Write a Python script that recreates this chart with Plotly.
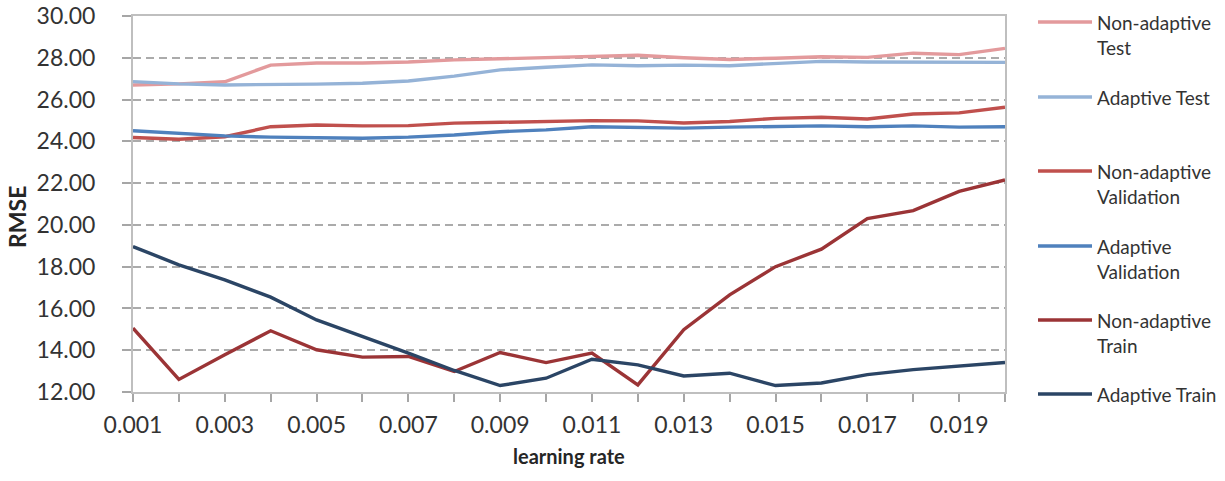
import plotly.graph_objects as go

learning_rate = [0.001, 0.002, 0.003, 0.004, 0.005, 0.006, 0.007, 0.008, 0.009, 0.010,
                 0.011, 0.012, 0.013, 0.014, 0.015, 0.016, 0.017, 0.018, 0.019, 0.020]

nonadaptive_test = [26.70, 26.75, 26.85, 27.65, 27.75, 27.75, 27.80, 27.90, 27.95, 28.00,
                    28.05, 28.12, 28.00, 27.92, 27.98, 28.05, 28.02, 28.22, 28.15, 28.45]
adaptive_test = [26.86, 26.75, 26.70, 26.70, 26.74, 26.78, 26.89, 27.12, 27.42, 27.55,
                 27.66, 27.62, 27.65, 27.62, 27.74, 27.83, 27.80, 27.80, 27.76, 27.78]
nonadaptive_val = [24.18, 24.10, 24.22, 24.70, 24.78, 24.74, 24.75, 24.87, 24.91, 24.95,
                   24.99, 24.98, 24.88, 24.95, 25.10, 25.15, 25.07, 25.31, 25.36, 25.63]
adaptive_val = [24.51, 24.39, 24.26, 24.20, 24.18, 24.15, 24.20, 24.30, 24.46, 24.55,
                24.70, 24.68, 24.63, 24.68, 24.73, 24.74, 24.70, 24.74, 24.68, 24.70]
nonadaptive_train = [15.06, 12.60, 13.78, 14.93, 14.02, 13.67, 13.70, 12.98, 13.89, 13.41,
                     13.86, 12.34, 14.98, 16.65, 18.00, 18.84, 20.30, 20.68, 21.60, 22.15]
adaptive_train = [18.96, 18.09, 17.37, 16.54, 15.45, 14.66, 13.86, 13.03, 12.31, 12.66,
                  13.57, 13.30, 12.77, 12.90, 12.31, 12.43, 12.83, 13.07, 13.23, 13.41]

series_names = ["Non-adaptive<br>Test", "Adaptive Test", "Non-adaptive<br>Validation",
                "Adaptive<br>Validation", "Non-adaptive<br>Train", "Adaptive Train"]
series_values = [nonadaptive_test, adaptive_test, nonadaptive_val,
                 adaptive_val, nonadaptive_train, adaptive_train]
series_colors = ["#E39A9C", "#95B3D7", "#C0504D", "#4F81BD", "#9B3436", "#2B4565"]

tick_labels = ["0.001", "", "0.003", "", "0.005", "", "0.007", "", "0.009", "",
               "0.011", "", "0.013", "", "0.015", "", "0.017", "", "0.019", ""]

W, H = 1225, 481
ML, MR, MT, MB = 133, 220, 16, 89
PW, PH = W - ML - MR, H - MT - MB


def px_x(px):
    return (px - ML) / PW


def px_y(py):
    return (H - MB - py) / PH


FONT = "Lato"
fig = go.Figure()
for name, vals, col in zip(series_names, series_values, series_colors):
    fig.add_trace(go.Scatter(x=learning_rate, y=vals, mode="lines", name=name.replace("<br>", " "),
                             line=dict(color=col, width=3.4), showlegend=False))

# manual legend (Excel-style, right side)
legend_y = [22, 97, 171, 246, 320, 394]
for name, col, ly in zip(series_names, series_colors, legend_y):
    fig.add_shape(type="line", xref="paper", yref="paper",
                  x0=px_x(1038), x1=px_x(1092), y0=px_y(ly), y1=px_y(ly),
                  line=dict(color=col, width=3.5))
    fig.add_annotation(xref="paper", yref="paper", x=px_x(1095), y=px_y(ly - 13),
                       xanchor="left", yanchor="top", align="left", text=name,
                       showarrow=False, font=dict(family=FONT, size=19, color="#333333"))

fig.add_annotation(xref="paper", yref="paper", x=0.5, y=px_y(456), xanchor="center",
                   yanchor="middle", text="<b>learning rate</b>", showarrow=False,
                   font=dict(family=FONT, size=20, color="#262626"))
fig.add_annotation(xref="paper", yref="paper", x=px_x(17), y=px_y(217), xanchor="center",
                   yanchor="middle", text="<b>RMSE</b>", textangle=-90, showarrow=False,
                   font=dict(family=FONT, size=23, color="#262626"))

fig.update_layout(
    width=W, height=H,
    margin=dict(l=ML, r=MR, t=MT, b=MB, autoexpand=False),
    paper_bgcolor="white", plot_bgcolor="white",
    font=dict(family=FONT, color="#333333"),
    xaxis=dict(range=[0.001, 0.020], tickvals=learning_rate, ticktext=tick_labels,
               ticks="outside", ticklen=8, tickcolor="#A6A6A6", tickwidth=1.5,
               showline=True, linecolor="#BFBFBF", linewidth=2, mirror=True, automargin=False,
               showgrid=False, zeroline=False, ticklabelstandoff=3,
               tickfont=dict(family=FONT, size=23, color="#333333")),
    yaxis=dict(range=[12, 30], dtick=2, tick0=12, tickformat=".2f",
               ticks="outside", ticklen=9, tickcolor="#A6A6A6", tickwidth=1.5,
               showline=True, linecolor="#BFBFBF", linewidth=2, mirror=True, automargin=False,
               showgrid=True, gridcolor="#ABABAB", gridwidth=1.5, griddash="8px,5px",
               zeroline=False, ticklabelstandoff=22,
               tickfont=dict(family=FONT, size=23, color="#333333")),
)

fig.write_html("out.html")
